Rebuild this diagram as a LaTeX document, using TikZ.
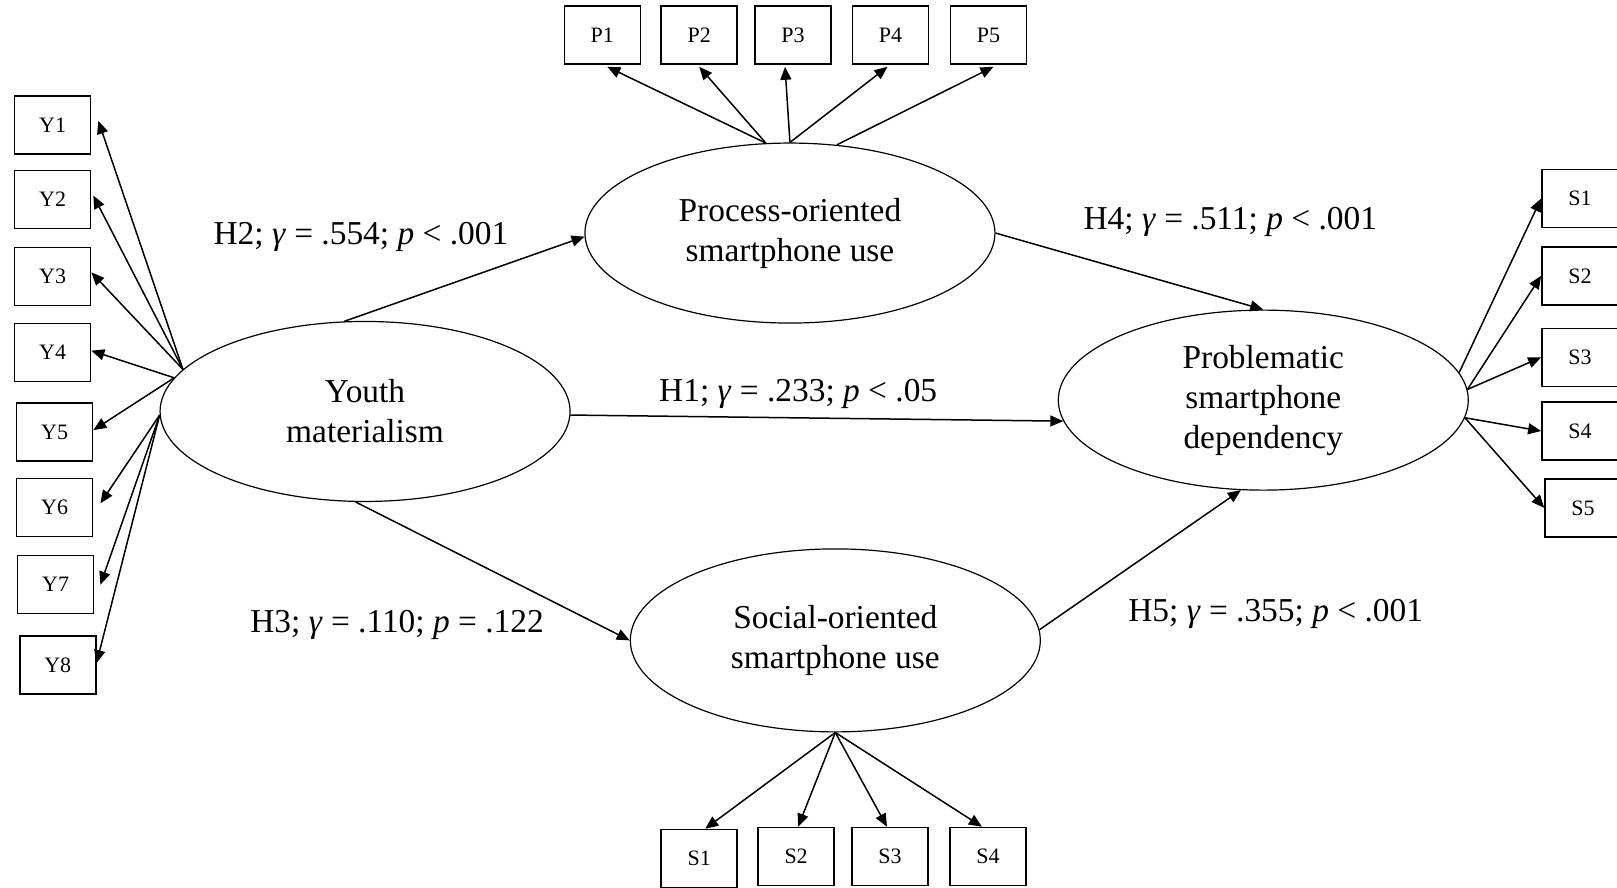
\documentclass[tikz,border=0pt]{standalone}
\usepackage{fontspec}
\setmainfont{Liberation Serif}
\usetikzlibrary{shapes.geometric,arrows.meta}
\begin{document}
\begin{tikzpicture}[x=0.515625pt,y=-0.515625pt,
  lat/.style={ellipse, draw, line width=0.6pt, inner sep=0pt, minimum width=205pt, minimum height=90pt, align=center, font=\fontsize{16.7}{20}\selectfont},
  obs/.style={draw, line width=0.75pt, minimum width=38pt, minimum height=29pt, inner sep=0pt, font=\fontsize{11}{13}\selectfont},
  arr/.style={-{Triangle[length=6.5pt,width=5.5pt]}, line width=0.75pt},
  lab/.style={anchor=base, inner sep=0pt, font=\fontsize{16.7}{20}\selectfont}]
\useasboundingbox[fill=white] (0,0) rectangle (1568,861);

% latent variables
\node[lat] (pe) at (766,226) {Process-oriented\\smartphone use};
\node[lat] (ym) at (354,399) {Youth\\materialism};
\node[lat] (psd) at (1225,388) {Problematic\\smartphone\\dependency};
\node[lat, minimum height=91.5pt] (so) at (810,621) {Social-oriented\\smartphone use};

% Y indicators
\node[obs] (y1) at (51,121) {Y1};
\node[obs] (y2) at (51,193.5) {Y2};
\node[obs] (y3) at (51,268) {Y3};
\node[obs] (y4) at (51,342) {Y4};
\node[obs] (y5) at (53,419) {Y5};
\node[obs] (y6) at (53,492) {Y6};
\node[obs] (y7) at (54,567) {Y7};
\node[obs] (y8) at (56,645) {Y8};

% P indicators
\node[obs] (p1) at (584,34) {P1};
\node[obs] (p2) at (678,34) {P2};
\node[obs] (p3) at (769,34) {P3};
\node[obs] (p4) at (863.5,34) {P4};
\node[obs] (p5) at (958.5,34) {P5};

% right S indicators
\node[obs] (s1r) at (1532,192.5) {S1};
\node[obs] (s2r) at (1532,267.5) {S2};
\node[obs] (s3r) at (1532,346.5) {S3};
\node[obs] (s4r) at (1532,418) {S4};
\node[obs] (s5r) at (1535,492.5) {S5};

% bottom S indicators
\node[obs] (s1b) at (678,832.5) {S1};
\node[obs] (s2b) at (772,830.5) {S2};
\node[obs] (s3b) at (863,830.5) {S3};
\node[obs] (s4b) at (958,830.5) {S4};

% Y loadings
\draw[arr] (ym.167) -- ([xshift=3.5pt,yshift=2pt]y1.east);
\draw[arr] (ym.167) -- ([xshift=1pt,yshift=2pt]y2.east);
\draw[arr] (ym.167) -- ([yshift=2pt]y3.east);
\draw[arr] (ym.170) -- ([yshift=1pt]y4.east);
\draw[arr] (ym.170) -- ([yshift=1pt]y5.east);
\draw[arr] (ym.181) -- ([xshift=3.5pt,yshift=2pt]y6.east);
\draw[arr] (ym.181) -- ([xshift=3pt]y7.east);
\draw[arr] (ym.181) -- ([yshift=1pt]y8.east);

% P loadings
\draw[arr] (pe.105) -- ([xshift=2.5pt,yshift=-1pt]p1.south);
\draw[arr] (pe.105) -- ([yshift=-1pt]p2.south);
\draw[arr] (pe.90) -- ([xshift=-4pt,yshift=-1pt]p3.south);
\draw[arr] (pe.90) -- ([xshift=-1.5pt,yshift=-1pt]p4.south);
\draw[arr] (pe.62) -- ([xshift=2.5pt,yshift=-1pt]p5.south);

% right S loadings
\draw[arr] (psd.8) -- (s1r.west);
\draw[arr] (psd.3) -- (s2r.west);
\draw[arr] (psd.3) -- (s3r.west);
\draw[arr] (psd.-5) -- (s4r.west);
\draw[arr] (psd.-5) -- (s5r.west);

% bottom S loadings
\draw[arr] (so.south) -- ([xshift=3pt]s1b.north);
\draw[arr] (so.south) -- ([xshift=1pt]s2b.north);
\draw[arr] (so.south) -- ([xshift=-1.5pt]s3b.north);
\draw[arr] (so.south) -- ([xshift=-3pt]s4b.north);

% structural paths
\draw[arr] (ym.103) -- (pe.181);
\draw[arr] (ym.-1.5) -- (psd.186);
\draw[arr] (ym.264) -- (so.west);
\draw[arr] (pe.east) -- (psd.north);
\draw[arr] (so.3) -- (psd.256);

% labels
\node[lab] (h2) at (350,237) {H2; \textit{γ} = .554; \textit{p} < .001};
\node[lab] (h1) at (774,389) {H1; \textit{γ} = .233; \textit{p} < .05};
\node[lab] (h3) at (385,613) {H3; \textit{γ} = .110; \textit{p} = .122};
\node[lab] (h4) at (1193,223) {H4; \textit{γ} = .511; \textit{p} < .001};
\node[lab] (h5) at (1237,603) {H5; \textit{γ} = .355; \textit{p} < .001};
\end{tikzpicture}
\end{document}
